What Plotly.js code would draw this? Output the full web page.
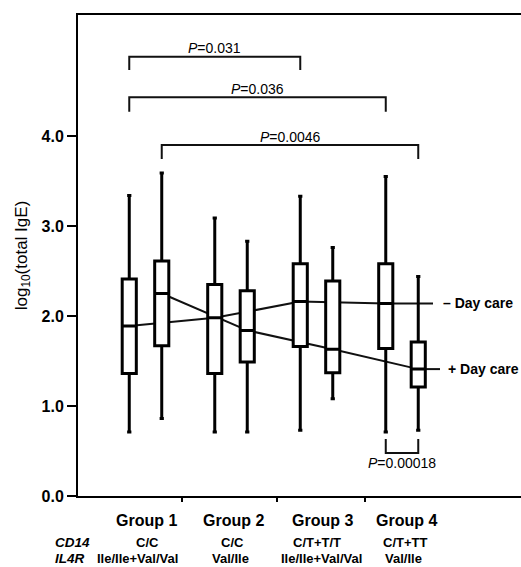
<!DOCTYPE html>
<html>
<head>
<meta charset="utf-8">
<script src="https://cdn.plot.ly/plotly-3.0.1.min.js"></script>
<style>html,body{margin:0;padding:0;background:#fff;}#chart{width:521px;height:567px;}</style>
</head>
<body>
<div id="chart"></div>
<script>
// ---- data ----
const groups = ['Group 1', 'Group 2', 'Group 3', 'Group 4'];
const cd14 = ['C/C', 'C/C', 'C/T+T/T', 'C/T+TT'];
const il4r = ['Ile/Ile+Val/Val', 'Val/Ile', 'Ile/Ile+Val/Val', 'Val/Ile'];

// - Day care boxes (left box of each group)
const minusLow = [0.71, 0.71, 0.73, 0.71];
const minusQ1  = [1.36, 1.36, 1.66, 1.64];
const minusMed = [1.89, 1.98, 2.16, 2.14];
const minusQ3  = [2.41, 2.35, 2.58, 2.58];
const minusHigh = [3.34, 3.09, 3.33, 3.55];

// + Day care boxes (right box of each group)
const plusLow = [0.86, 0.71, 1.08, 0.73];
const plusQ1  = [1.67, 1.49, 1.37, 1.21];
const plusMed = [2.25, 1.84, 1.63, 1.41];
const plusQ3  = [2.61, 2.28, 2.39, 1.71];
const plusHigh = [3.59, 2.83, 2.76, 2.44];

// comparisons: [group, series(0 = -, 1 = +)] pairs and P values
const comparisons = [
  {a: [1, 0], b: [3, 0], p: '0.031'},
  {a: [1, 0], b: [4, 0], p: '0.036'},
  {a: [1, 1], b: [4, 1], p: '0.0046'}
];
const bottomComparison = {a: [4, 0], b: [4, 1], p: '0.00018'};

// ---- layout helpers ----
const OFF = 0.19;
const gx = [1, 2, 3, 4];
const minusX = gx.map(g => g - OFF);
const plusX = gx.map(g => g + OFF);
const boxX = (g, s) => g + (s === 0 ? -OFF : OFF);
const px2x = p => 1 + (p - 145.5) / 85.5;
const py2y = p => (496 - p) / 90;
const pxPaper = p => (p - 78) / 443;
const pyPaper = p => (496 - p) / 481;
const XR = [px2x(78), px2x(521)];
const YR = [0, py2y(15)];
const FONT = 'Liberation Sans, Arial, sans-serif';

const traces = [];
const shapes = [];
// median connecting lines (drawn beneath the boxes)
function addMedianLine(xs, ys, endX) {
  const X = xs.concat([endX]), Y = ys.concat([ys[ys.length - 1]]);
  for (let i = 0; i < X.length - 1; i++) {
    shapes.push({type: 'line', xref: 'x', yref: 'y', layer: 'below',
      x0: X[i], y0: Y[i], x1: X[i + 1], y1: Y[i + 1], line: {color: '#111', width: 2}});
  }
}
addMedianLine(minusX, minusMed, px2x(433));
addMedianLine(plusX, plusMed, px2x(440));

// brackets
const annotations = [];
const levels = [{h: py2y(56.7), d: py2y(70), t: py2y(48)},
                {h: py2y(97.3), d: py2y(111.7), t: py2y(89)},
                {h: py2y(145), d: py2y(159), t: py2y(137)}];
comparisons.forEach((c, i) => {
  const xa = boxX(c.a[0], c.a[1]), xb = boxX(c.b[0], c.b[1]);
  const L = levels[i];
  traces.push({type: 'scatter', mode: 'lines', x: [xa, xa, xb, xb], y: [L.d, L.h, L.h, L.d],
    line: {color: '#111', width: 2}, hoverinfo: 'skip', showlegend: false});
  annotations.push({x: (xa + xb) / 2, y: L.t, xref: 'x', yref: 'y', text: '<i>P</i>=' + c.p,
    showarrow: false, xanchor: 'center', yanchor: 'middle', font: {family: FONT, size: 14, color: '#000'}});
});
{
  const c = bottomComparison;
  const xa = boxX(c.a[0], c.a[1]), xb = boxX(c.b[0], c.b[1]);
  const top = py2y(439), bot = py2y(453);
  traces.push({type: 'scatter', mode: 'lines', x: [xa, xa, xb, xb], y: [top, bot, bot, top],
    line: {color: '#111', width: 2}, hoverinfo: 'skip', showlegend: false});
  annotations.push({x: (xa + xb) / 2, y: py2y(463), xref: 'x', yref: 'y', text: '<i>P</i>=' + c.p,
    showarrow: false, xanchor: 'center', yanchor: 'middle', font: {family: FONT, size: 14, color: '#000'}});
}

// boxes
const boxStyle = {line: {color: '#000', width: 3}, fillcolor: 'rgba(255,255,255,1)', whiskerwidth: 0.3,
  width: 0.165, boxpoints: false, hoverinfo: 'skip', showlegend: false};
traces.push(Object.assign({type: 'box', name: '- Day care', x: minusX, q1: minusQ1, median: minusMed,
  q3: minusQ3, lowerfence: minusLow, upperfence: minusHigh}, boxStyle));
traces.push(Object.assign({type: 'box', name: '+ Day care', x: plusX, q1: plusQ1, median: plusMed,
  q3: plusQ3, lowerfence: plusLow, upperfence: plusHigh}, boxStyle));

// series labels
annotations.push({x: px2x(441), y: minusMed[3], xref: 'x', yref: 'y', text: '<b>\u2013 Day care</b>',
  showarrow: false, xanchor: 'left', yanchor: 'middle', font: {family: FONT, size: 14, color: '#000'}});
annotations.push({x: px2x(446), y: plusMed[3], xref: 'x', yref: 'y', text: '<b>+ Day care</b>',
  showarrow: false, xanchor: 'left', yanchor: 'middle', font: {family: FONT, size: 14, color: '#000'}});

// group labels and genotype rows (below the axis, in paper coordinates)
const groupLabelX = [146, 233, 322, 406];
const cd14X = [147, 232, 317, 405];
const il4rX = [137, 230, 321, 403];
groups.forEach((g, i) => {
  annotations.push({x: pxPaper(groupLabelX[i]), y: pyPaper(520), xref: 'paper', yref: 'paper', text: '<b>' + g + '</b>', showarrow: false,
    xanchor: 'center', yanchor: 'middle', font: {family: FONT, size: 16, color: '#000'}});
  annotations.push({x: pxPaper(cd14X[i]), y: pyPaper(542), xref: 'paper', yref: 'paper', text: '<b>' + cd14[i] + '</b>', showarrow: false,
    xanchor: 'center', yanchor: 'middle', font: {family: FONT, size: 13, color: '#000'}});
  annotations.push({x: pxPaper(il4rX[i]), y: pyPaper(558), xref: 'paper', yref: 'paper', text: '<b>' + il4r[i] + '</b>', showarrow: false,
    xanchor: 'center', yanchor: 'middle', font: {family: FONT, size: 13, color: '#000'}});
});
annotations.push({x: pxPaper(53), y: pyPaper(542), xref: 'paper', yref: 'paper', text: '<b><i>CD14</i></b>', showarrow: false,
  xanchor: 'left', yanchor: 'middle', font: {family: FONT, size: 13.5, color: '#000'}});
annotations.push({x: pxPaper(53), y: pyPaper(558), xref: 'paper', yref: 'paper', text: '<b><i>IL4R</i></b>', showarrow: false,
  xanchor: 'left', yanchor: 'middle', font: {family: FONT, size: 13.5, color: '#000'}});

const layout = {
  width: 521, height: 567,
  margin: {l: 78, r: 0, t: 15, b: 71, pad: 0},
  paper_bgcolor: '#fff', plot_bgcolor: '#fff',
  showlegend: false,
  xaxis: {range: XR, showline: true, mirror: true, linecolor: '#000', linewidth: 2,
    ticks: 'outside', tickvals: [px2x(182), px2x(277), px2x(365)], ticklen: 4, tickwidth: 2, tickcolor: '#000',
    showticklabels: false, showgrid: false, zeroline: false, fixedrange: true},
  yaxis: {range: YR, showline: true, linecolor: '#000', linewidth: 2,
    ticks: 'outside', tickvals: [0, 1, 2, 3, 4], ticktext: ['<b>0.0</b>', '<b>1.0</b>', '<b>2.0</b>', '<b>3.0</b>', '<b>4.0</b>'],
    ticklen: 9, tickwidth: 2, tickcolor: '#000', tickfont: {family: FONT, size: 16, color: '#000'},
    showgrid: false, zeroline: false, fixedrange: true,
    title: {text: 'log<sub>10</sub>(total IgE)', font: {family: FONT, size: 17, color: '#000'}, standoff: 10}},
  shapes: shapes,
  annotations: annotations
};

Plotly.newPlot('chart', traces, layout, {displayModeBar: false, staticPlot: true});
</script>
</body>
</html>
